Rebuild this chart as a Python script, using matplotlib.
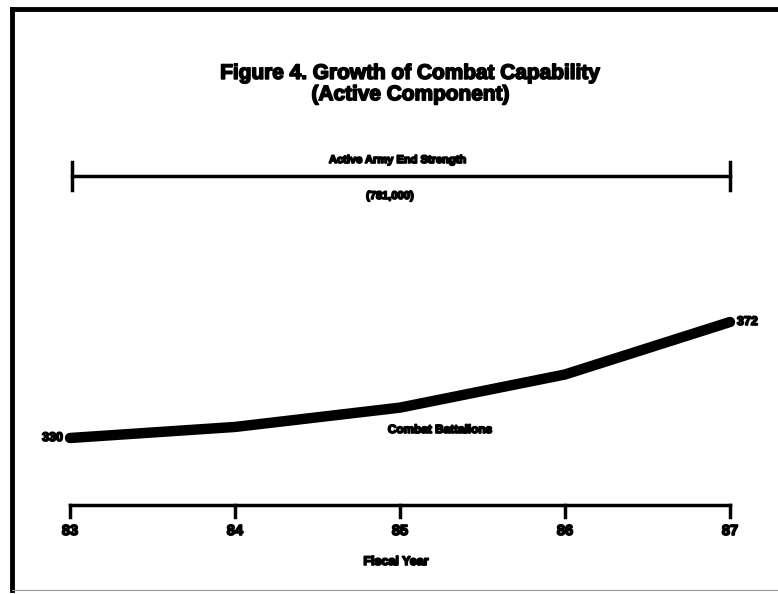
import matplotlib.pyplot as plt
import matplotlib.patheffects as pe
from matplotlib.lines import Line2D

years = [83, 84, 85, 86, 87]
year_labels = ["83", "84", "85", "86", "87"]
battalions = [330, 334, 341, 353, 372]
title = "Figure 4. Growth of Combat Capability\n(Active Component)"
strength_label = "Active Army End Strength"
strength_value = "(781,000)"

W, H = 778, 594
plt.rcParams['font.family'] = ['Liberation Sans', 'DejaVu Sans']

fig = plt.figure(figsize=(W / 100, H / 100), dpi=100)
fig.patch.set_facecolor('white')

heavy = [pe.withStroke(linewidth=1.2, foreground='black')]


def fx(px):
    return px / W


def fy(py):
    return 1 - py / H


# main plot area: 83 -> px 70, 87 -> px 730 ; 330 -> py 438, 372 -> py 322
ax = fig.add_axes([0, 0, 1, 1])
ax.set_axis_off()
ppx = (730 - 70) / 4.0
ppy = (438 - 322) / 42.0
ax.set_xlim(83 - 70 / ppx, 83 + (W - 70) / ppx)
ax.set_ylim(330 - (H - 438) / ppy, 330 + 438 / ppy)

ax.plot(years, battalions, color='black', lw=7.5, solid_capstyle='round',
        solid_joinstyle='round')
ax.annotate(str(battalions[0]), (years[0], battalions[0]), xytext=(-5, 0),
            textcoords='offset points', ha='right', va='center',
            fontsize=9, fontweight='bold', path_effects=heavy)
ax.annotate(str(battalions[-1]), (years[-1], battalions[-1]), xytext=(5, 0),
            textcoords='offset points', ha='left', va='center',
            fontsize=9, fontweight='bold', path_effects=heavy)
fig.text(fx(440), fy(430), "Combat Battalions", ha='center', va='center',
         fontsize=8.5, fontweight='bold', path_effects=heavy)

# x axis drawn by hand
axis_y = 505
fig.add_artist(Line2D([fx(70), fx(730)], [fy(axis_y), fy(axis_y)],
                      color='black', lw=2.5))
for i, lab in enumerate(year_labels):
    xp = 70 + i * ppx
    fig.add_artist(Line2D([fx(xp), fx(xp)], [fy(axis_y), fy(axis_y + 12)],
                          color='black', lw=2.5))
    fig.text(fx(xp), fy(531), lab, ha='center', va='center',
             fontsize=10.5, fontweight='bold', path_effects=heavy)
fig.text(fx(396), fy(562), "Fiscal Year", ha='center', va='center',
         fontsize=9, fontweight='bold', path_effects=heavy)

# end strength bar
bar_y = 176
fig.add_artist(Line2D([fx(72), fx(730)], [fy(bar_y), fy(bar_y)],
                      color='black', lw=2.5))
for xp in (72, 730):
    fig.add_artist(Line2D([fx(xp), fx(xp)], [fy(bar_y - 14), fy(bar_y + 14)],
                          color='black', lw=2.5))
fig.text(fx(398), fy(160), strength_label, ha='center', va='center',
         fontsize=8, fontweight='bold', path_effects=heavy)
fig.text(fx(390), fy(196), strength_value, ha='center', va='center',
         fontsize=8, fontweight='bold', path_effects=heavy)

# title
fig.text(fx(411), fy(84), title, ha='center', va='center', fontsize=15,
         fontweight='bold', linespacing=1.15, path_effects=heavy)

# frame
fig.add_artist(Line2D([fx(12), fx(12)], [fy(9), fy(590)], color='black', lw=3.5))
fig.add_artist(Line2D([fx(12), fx(W)], [fy(9), fy(9)], color='black', lw=3.5))
fig.add_artist(Line2D([fx(12), fx(W)], [fy(590), fy(590)], color='0.6', lw=0.8))

fig.savefig("out.png", dpi=100, facecolor='white')
